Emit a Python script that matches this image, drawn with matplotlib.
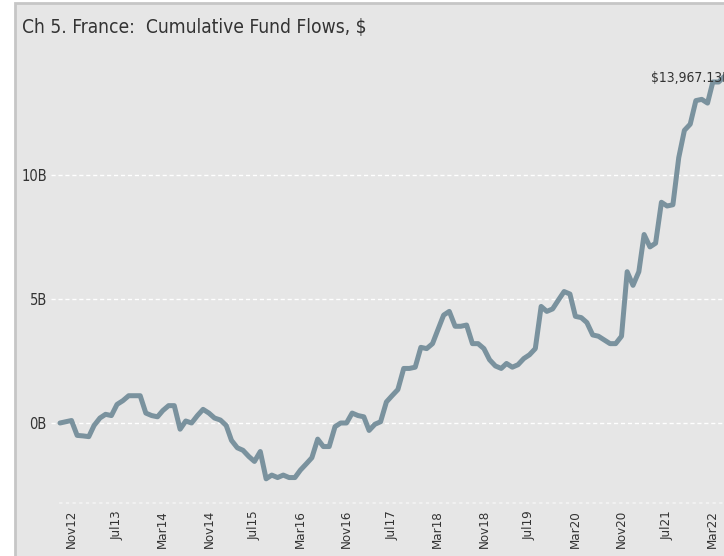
import numpy as np
import pandas as pd
import matplotlib
matplotlib.use('Agg')
import matplotlib.pyplot as plt
import matplotlib.dates as mdates
from matplotlib.patches import Rectangle

plt.rcParams['font.family'] = ['DejaVu Sans']
plt.rcParams['font.stretch'] = 'condensed'

# cumulative flows, $ billions, monthly from Sep 2012
months = pd.date_range('2012-09-01', periods=117, freq='MS')
flows_bn = [0.0, 0.05, 0.1, -0.5, -0.52, -0.55, -0.1, 0.2, 0.35, 0.3,
            0.75, 0.9, 1.1, 1.1, 1.1, 0.4, 0.3, 0.25, 0.5, 0.7,
            0.7, -0.25, 0.08, 0.0, 0.3, 0.55, 0.4, 0.2, 0.12, -0.1,
            -0.7, -1.0, -1.1, -1.35, -1.55, -1.15, -2.25, -2.1, -2.2, -2.1,
            -2.2, -2.2, -1.9, -1.65, -1.4, -0.65, -0.95, -0.95, -0.15, 0.0,
            0.0, 0.4, 0.3, 0.25, -0.3, -0.05, 0.05, 0.85, 1.1, 1.35,
            2.2, 2.2, 2.25, 3.05, 3.0, 3.2, 3.75, 4.35, 4.5, 3.9,
            3.9, 3.95, 3.2, 3.2, 3.0, 2.55, 2.3, 2.2, 2.4, 2.25,
            2.35, 2.6, 2.75, 3.0, 4.7, 4.5, 4.6, 4.95, 5.3, 5.2,
            4.3, 4.25, 4.05, 3.55, 3.5, 3.35, 3.2, 3.2, 3.5, 6.1,
            5.55, 6.1, 7.6, 7.1, 7.25, 8.9, 8.75, 8.8, 10.7, 11.8,
            12.05, 13.0, 13.05, 12.9, 13.75, 13.75, 13.97]
last_label = '$13,967.13M'

tick_dates = pd.date_range('2012-11-01', '2022-03-01', freq='8MS')
tick_labels = [d.strftime('%b%y') for d in tick_dates]
y_ticks = [0, 5, 10]
y_labels = ['0B', '5B', '10B']

W, H = 724, 556
fig = plt.figure(figsize=(W / 100, H / 100), dpi=100, facecolor='white')

# grey panel with border on left/top
fig.patches.append(Rectangle((15 / W, -0.1), 1.2, 1.1 - 3 / H,
                             transform=fig.transFigure, facecolor='#e6e6e6',
                             edgecolor='#c6c6c6', lw=2, zorder=-10))

# axes placement (pixel based)
ax_l, ax_r, ax_b, ax_t = 51, 744, 503, 60
ax = fig.add_axes([ax_l / W, (H - ax_b) / H, (ax_r - ax_l) / W, (ax_b - ax_t) / H])
ax.set_facecolor('none')

px_per_day = 5.73 / 30.44
t0 = mdates.date2num(months[0])
ax.set_xlim(t0 - (60 - ax_l) / px_per_day, t0 + (ax_r - 60) / px_per_day)
ax.set_ylim(-(ax_b - 423) / 24.8, (423 - ax_t) / 24.8)

for y in y_ticks:
    ax.axhline(y, color='white', lw=1, ls=(0, (3, 2)), zorder=1)

ax.plot(months, flows_bn, color='#7a929e', lw=3.6, solid_joinstyle='round',
        solid_capstyle='round', zorder=3)

ax.annotate(last_label, (months[-1], flows_bn[-1]), xytext=(6, -1),
            textcoords='offset points', ha='right', va='center',
            fontsize=10, color='#333333')

ax.set_yticks(y_ticks)
ax.set_yticklabels(y_labels)
ax.set_xticks(tick_dates)
ax.set_xticklabels(tick_labels, rotation=90)
ax.tick_params(axis='y', length=0, labelsize=10.5, colors='#333333', pad=3)
ax.tick_params(axis='x', length=0, labelsize=9.5, colors='#333333', pad=5)

for s in ['top', 'right', 'left']:
    ax.spines[s].set_visible(False)
ax.spines['bottom'].set_color('#f4f4f4')
ax.spines['bottom'].set_linestyle((0, (1, 3)))
ax.spines['bottom'].set_linewidth(1.2)
ax.spines['bottom'].set_bounds(t0, ax.get_xlim()[1])

fig.text(22 / W, 1 - 27 / H, 'Ch 5. France:  Cumulative Fund Flows, $',
         fontsize=13.8, color='#333333', va='center', ha='left')

fig.savefig('out.png', dpi=100, facecolor='white')
